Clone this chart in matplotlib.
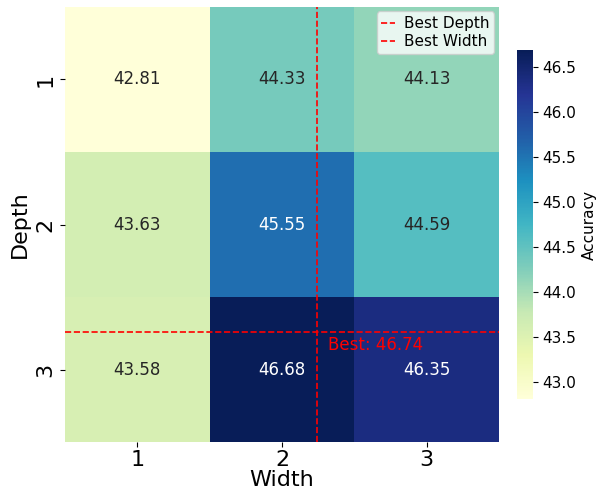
import numpy as np
import matplotlib.pyplot as plt
import seaborn as sns

depths = [1, 2, 3]
widths = [1, 2, 3]
accuracy = [
    [42.81, 44.33, 44.13],
    [43.63, 45.55, 44.59],
    [43.58, 46.68, 46.35],
]
best_acc = 46.74
best_depth_pos = 2.24
best_width_pos = 1.74

fig = plt.figure(figsize=(6.02, 4.94), dpi=100)
ax = fig.add_axes([0.108, 0.105, 0.721, 0.881])
cax = fig.add_axes([0.859, 0.192, 0.026, 0.706])

sns.heatmap(np.array(accuracy), annot=True, fmt=".2f", cmap="YlGnBu",
            xticklabels=widths, yticklabels=depths, ax=ax, cbar_ax=cax,
            annot_kws={"size": 12}, cbar_kws={"label": "Accuracy"})

ax.axhline(best_depth_pos, color="red", linestyle="--", linewidth=1.2, label="Best Depth")
ax.axvline(best_width_pos, color="red", linestyle="--", linewidth=1.2, label="Best Width")
ax.text(best_width_pos + 0.08, best_depth_pos + 0.09, f"Best: {best_acc:.2f}",
        color="red", fontsize=12, va="center", ha="left")

ax.set_xlabel("Width", fontsize=16, labelpad=0)
ax.set_ylabel("Depth", fontsize=16)
ax.tick_params(axis="both", labelsize=16)
ax.tick_params(axis="x", pad=2)
ax.legend(loc="upper right", fontsize=11, handlelength=0.9, handletextpad=0.6,
          borderpad=0.3, labelspacing=0.2, borderaxespad=0.3)

cax.tick_params(labelsize=11)
cax.yaxis.label.set_size(11)

fig.savefig("out.png", dpi=100)
